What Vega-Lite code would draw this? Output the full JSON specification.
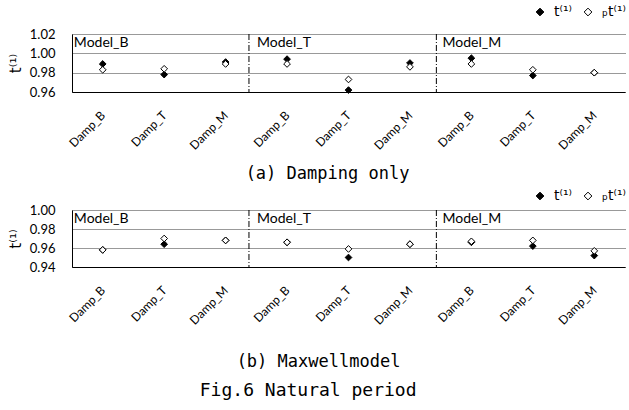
{
  "$schema": "https://vega.github.io/schema/vega-lite/v6.json",
  "background": "white",
  "padding": {"left": 8, "top": 5, "right": 0, "bottom": 5},
  "spacing": 7,
  "datasets": {
    "a": [
      {"pos": 1, "model": "Model_B", "damp": "Damp_B", "series": "t⁽¹⁾", "value": 0.989},
      {"pos": 2, "model": "Model_B", "damp": "Damp_T", "series": "t⁽¹⁾", "value": 0.978},
      {"pos": 3, "model": "Model_B", "damp": "Damp_M", "series": "t⁽¹⁾", "value": 0.991},
      {"pos": 4, "model": "Model_T", "damp": "Damp_B", "series": "t⁽¹⁾", "value": 0.994},
      {"pos": 5, "model": "Model_T", "damp": "Damp_T", "series": "t⁽¹⁾", "value": 0.962},
      {"pos": 6, "model": "Model_T", "damp": "Damp_M", "series": "t⁽¹⁾", "value": 0.990},
      {"pos": 7, "model": "Model_M", "damp": "Damp_B", "series": "t⁽¹⁾", "value": 0.995},
      {"pos": 8, "model": "Model_M", "damp": "Damp_T", "series": "t⁽¹⁾", "value": 0.977},
      {"pos": 9, "model": "Model_M", "damp": "Damp_M", "series": "t⁽¹⁾", "value": 0.980},
      {"pos": 1, "model": "Model_B", "damp": "Damp_B", "series": "ₚt⁽¹⁾", "value": 0.983},
      {"pos": 2, "model": "Model_B", "damp": "Damp_T", "series": "ₚt⁽¹⁾", "value": 0.984},
      {"pos": 3, "model": "Model_B", "damp": "Damp_M", "series": "ₚt⁽¹⁾", "value": 0.989},
      {"pos": 4, "model": "Model_T", "damp": "Damp_B", "series": "ₚt⁽¹⁾", "value": 0.989},
      {"pos": 5, "model": "Model_T", "damp": "Damp_T", "series": "ₚt⁽¹⁾", "value": 0.973},
      {"pos": 6, "model": "Model_T", "damp": "Damp_M", "series": "ₚt⁽¹⁾", "value": 0.986},
      {"pos": 7, "model": "Model_M", "damp": "Damp_B", "series": "ₚt⁽¹⁾", "value": 0.989},
      {"pos": 8, "model": "Model_M", "damp": "Damp_T", "series": "ₚt⁽¹⁾", "value": 0.983},
      {"pos": 9, "model": "Model_M", "damp": "Damp_M", "series": "ₚt⁽¹⁾", "value": 0.980}
    ],
    "b": [
      {"pos": 1, "model": "Model_B", "damp": "Damp_B", "series": "t⁽¹⁾", "value": 0.958},
      {"pos": 2, "model": "Model_B", "damp": "Damp_T", "series": "t⁽¹⁾", "value": 0.964},
      {"pos": 3, "model": "Model_B", "damp": "Damp_M", "series": "t⁽¹⁾", "value": 0.968},
      {"pos": 4, "model": "Model_T", "damp": "Damp_B", "series": "t⁽¹⁾", "value": 0.966},
      {"pos": 5, "model": "Model_T", "damp": "Damp_T", "series": "t⁽¹⁾", "value": 0.950},
      {"pos": 6, "model": "Model_T", "damp": "Damp_M", "series": "t⁽¹⁾", "value": 0.964},
      {"pos": 7, "model": "Model_M", "damp": "Damp_B", "series": "t⁽¹⁾", "value": 0.966},
      {"pos": 8, "model": "Model_M", "damp": "Damp_T", "series": "t⁽¹⁾", "value": 0.962},
      {"pos": 9, "model": "Model_M", "damp": "Damp_M", "series": "t⁽¹⁾", "value": 0.952},
      {"pos": 1, "model": "Model_B", "damp": "Damp_B", "series": "ₚt⁽¹⁾", "value": 0.958},
      {"pos": 2, "model": "Model_B", "damp": "Damp_T", "series": "ₚt⁽¹⁾", "value": 0.970},
      {"pos": 3, "model": "Model_B", "damp": "Damp_M", "series": "ₚt⁽¹⁾", "value": 0.968},
      {"pos": 4, "model": "Model_T", "damp": "Damp_B", "series": "ₚt⁽¹⁾", "value": 0.966},
      {"pos": 5, "model": "Model_T", "damp": "Damp_T", "series": "ₚt⁽¹⁾", "value": 0.959},
      {"pos": 6, "model": "Model_T", "damp": "Damp_M", "series": "ₚt⁽¹⁾", "value": 0.964},
      {"pos": 7, "model": "Model_M", "damp": "Damp_B", "series": "ₚt⁽¹⁾", "value": 0.967},
      {"pos": 8, "model": "Model_M", "damp": "Damp_T", "series": "ₚt⁽¹⁾", "value": 0.968},
      {"pos": 9, "model": "Model_M", "damp": "Damp_M", "series": "ₚt⁽¹⁾", "value": 0.957}
    ],
    "modelsA": [
      {"pos": 0.53, "value": 1.02, "label": "Model_B"},
      {"pos": 3.51, "value": 1.02, "label": "Model_T"},
      {"pos": 6.53, "value": 1.02, "label": "Model_M"}
    ],
    "modelsB": [
      {"pos": 0.53, "value": 1.0, "label": "Model_B"},
      {"pos": 3.51, "value": 1.0, "label": "Model_T"},
      {"pos": 6.53, "value": 1.0, "label": "Model_M"}
    ],
    "seps": [{"sep": 3.38}, {"sep": 6.43}]
  },
  "title": {
    "text": "Fig.6 Natural period",
    "orient": "bottom",
    "anchor": "middle",
    "font": "DejaVu Sans Mono",
    "fontSize": 18,
    "fontWeight": "normal",
    "color": "black",
    "offset": 13,
    "dx": -9
  },
  "vconcat": [
    {
      "width": 553,
      "height": 58,
      "encoding": {
        "x": {
          "field": "pos", "type": "quantitative",
          "scale": {"domain": [0.5, 9.5], "nice": false, "zero": false},
          "axis": {
            "values": [1, 2, 3, 4, 5, 6, 7, 8, 9],
            "labelExpr": "['Damp_B','Damp_T','Damp_M'][(datum.value-1)%3]",
            "title": "(a)  Damping only", "titleX": 255, "titlePadding": 14
          }
        },
        "y": {
          "field": "value", "type": "quantitative",
          "scale": {"domain": [0.96, 1.02], "nice": false, "zero": false},
          "axis": {"tickCount": 4, "title": "t⁽¹⁾"}
        }
      },
      "layer": [
        {
          "data": {"name": "seps"},
          "mark": {"type": "rule", "strokeDash": [6, 2, 1, 2], "color": "black", "strokeWidth": 1},
          "encoding": {
            "x": {"field": "sep", "type": "quantitative"},
            "y": null
          }
        },
        {
          "data": {"name": "modelsA"},
          "mark": {"type": "text", "align": "left", "baseline": "top", "dy": 2, "font": "Lato", "fontSize": 14, "color": "black"},
          "encoding": {
            "text": {"field": "label"}
          }
        },
        {
          "data": {"name": "a"},
          "mark": {"type": "point", "shape": "diamond", "filled": true, "stroke": "black", "strokeWidth": 1, "size": 45, "opacity": 1},
          "encoding": {
            "fill": {
              "field": "series", "type": "nominal",
              "scale": {"domain": ["t⁽¹⁾", "ₚt⁽¹⁾"], "range": ["black", "white"]},
              "legend": {"legendY": -29, "symbolType": "diamond", "symbolStrokeColor": "black", "symbolStrokeWidth": 1}
            }
          }
        }
      ]
    },
    {
      "width": 553,
      "height": 57,
      "encoding": {
        "x": {
          "field": "pos", "type": "quantitative",
          "scale": {"domain": [0.5, 9.5], "nice": false, "zero": false},
          "axis": {
            "values": [1, 2, 3, 4, 5, 6, 7, 8, 9],
            "labelExpr": "['Damp_B','Damp_T','Damp_M'][(datum.value-1)%3]",
            "title": "(b)  Maxwellmodel", "titleX": 246, "titlePadding": 27
          }
        },
        "y": {
          "field": "value", "type": "quantitative",
          "scale": {"domain": [0.94, 1.0], "nice": false, "zero": false},
          "axis": {"tickCount": 4, "title": "t⁽¹⁾"}
        }
      },
      "layer": [
        {
          "data": {"name": "seps"},
          "mark": {"type": "rule", "strokeDash": [6, 2, 1, 2], "color": "black", "strokeWidth": 1},
          "encoding": {
            "x": {"field": "sep", "type": "quantitative"},
            "y": null
          }
        },
        {
          "data": {"name": "modelsB"},
          "mark": {"type": "text", "align": "left", "baseline": "top", "dy": 2, "font": "Lato", "fontSize": 14, "color": "black"},
          "encoding": {
            "text": {"field": "label"}
          }
        },
        {
          "data": {"name": "b"},
          "mark": {"type": "point", "shape": "diamond", "filled": true, "stroke": "black", "strokeWidth": 1, "size": 45, "opacity": 1},
          "encoding": {
            "fill": {
              "field": "series", "type": "nominal",
              "scale": {"domain": ["t⁽¹⁾", "ₚt⁽¹⁾"], "range": ["black", "white"]},
              "legend": {"legendY": -21, "symbolType": "diamond", "symbolStrokeColor": "black", "symbolStrokeWidth": 1}
            }
          }
        }
      ]
    }
  ],
  "resolve": {"scale": {"fill": "independent"}, "legend": {"fill": "independent"}},
  "config": {
    "view": {"stroke": null},
    "font": "Lato",
    "axisX": {
      "labelAngle": -45, "labelAlign": "right", "labelBaseline": "middle",
      "labelPadding": 21, "labelOverlap": false, "labelBound": false, "labelFlush": false,
      "ticks": false, "grid": false, "domainColor": "black", "domainWidth": 1,
      "labelFont": "Lato", "labelFontSize": 12, "labelColor": "black",
      "titleFont": "DejaVu Sans Mono", "titleFontSize": 17, "titleFontWeight": "normal", "titleColor": "black"
    },
    "axisY": {
      "format": ".2f", "labelOverlap": false, "labelBound": false, "labelFlush": false,
      "ticks": false, "grid": true, "gridDash": [1, 1], "gridColor": "#333", "gridWidth": 1,
      "domainColor": "black", "domainWidth": 1,
      "labelFont": "Lato", "labelFontSize": 13, "labelPadding": 17, "labelColor": "black",
      "titleFont": "DejaVu Sans", "titleFontSize": 15, "titleFontWeight": "normal",
      "titlePadding": 6, "titleColor": "black"
    },
    "legend": {
      "orient": "none", "legendX": 461, "direction": "horizontal",
      "title": null, "labelFont": "DejaVu Sans", "labelFontSize": 14, "labelColor": "black",
      "symbolSize": 60, "symbolStrokeColor": "black", "symbolStrokeWidth": 1,
      "columnPadding": 9, "labelOffset": 7
    }
  }
}
